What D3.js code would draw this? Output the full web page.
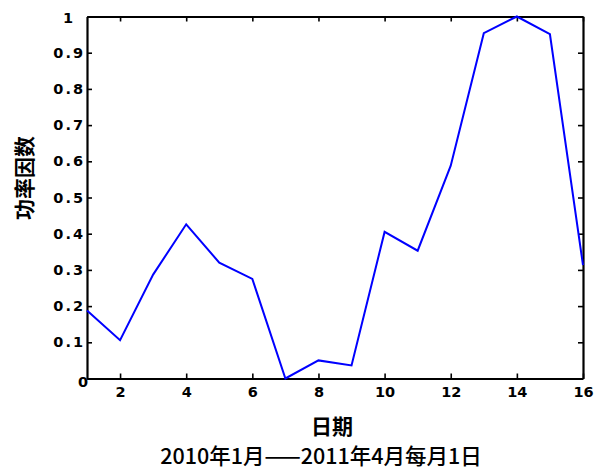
<!DOCTYPE html>
<html>
<head>
<meta charset="utf-8">
<script src="https://cdn.jsdelivr.net/npm/d3@7"></script>
<style>
  html, body { margin: 0; padding: 0; background: #fff; }
  svg { display: block; }
</style>
</head>
<body>
<svg id="chart" width="595" height="469"></svg>
<script>
// Monthly power factor, sampled on the 1st of each month (Jan 2010 – Apr 2011)
const months = [1, 2, 3, 4, 5, 6, 7, 8, 9, 10, 11, 12, 13, 14, 15, 16];
const powerFactor = [0.188, 0.106, 0.287, 0.426, 0.320, 0.275, 0.000, 0.050,
                     0.036, 0.405, 0.353, 0.588, 0.954, 1.000, 0.951, 0.313];
const xTicks = [2, 4, 6, 8, 10, 12, 14, 16];
const yTicks = [0, 0.1, 0.2, 0.3, 0.4, 0.5, 0.6, 0.7, 0.8, 0.9, 1];
const yLabel = "功率因数";
const xLabel = "日期";
const subtitle = "2010年1月——2011年4月每月1日";

const svg = d3.select("#chart");
const plotLeft = 87, plotRight = 583, plotTop = 16.5, plotBottom = 378.5;

const x = d3.scaleLinear().domain([1, 16]).range([plotLeft, plotRight]);
const y = d3.scaleLinear().domain([0, 1]).range([plotBottom, plotTop]);

const tickFont = "'DejaVu Sans', sans-serif";
const yFmt = d => d === 0 ? "0" : d === 1 ? "1" : d3.format(".1f")(d);

// Bottom axis with labels
const gx = svg.append("g").attr("transform", `translate(0,${plotBottom})`)
  .call(d3.axisBottom(x).tickValues(xTicks).tickSizeInner(-5).tickSizeOuter(0).tickPadding(8).tickFormat(d3.format("d")));
// Top axis, ticks only
const gxt = svg.append("g").attr("transform", `translate(0,${plotTop})`)
  .call(d3.axisTop(x).tickValues(xTicks).tickSizeInner(-5).tickSizeOuter(0).tickFormat(""));
// Left axis with labels
const gy = svg.append("g").attr("transform", `translate(${plotLeft},0)`)
  .call(d3.axisLeft(y).tickValues(yTicks).tickSizeInner(-5).tickSizeOuter(0).tickPadding(2).tickFormat(yFmt));
// Right axis, ticks only
const gyr = svg.append("g").attr("transform", `translate(${plotRight},0)`)
  .call(d3.axisRight(y).tickValues(yTicks).tickSizeInner(-5).tickSizeOuter(0).tickFormat(""));

[gx, gxt, gy, gyr].forEach(g => {
  g.select(".domain").attr("stroke", "#000").attr("stroke-width", 2.2);
  g.selectAll(".tick line").attr("stroke", "#000").attr("stroke-width", 1.6);
});

gx.selectAll("text")
  .attr("font-family", tickFont).attr("font-size", 14.5).attr("font-weight", "bold").attr("fill", "#000");
gy.selectAll("text")
  .attr("font-family", tickFont).attr("font-size", 14.5).attr("font-weight", "bold").attr("fill", "#000")
  .attr("letter-spacing", 2);
// End labels sit slightly off the regular column
gy.selectAll(".tick").filter(d => d === 0).select("text").attr("x", 3).attr("dy", "0.55em");
gy.selectAll(".tick").filter(d => d === 1).select("text").attr("x", -12).attr("dy", "0.4em");

// Data line
const line = d3.line().x((d, i) => x(months[i])).y(d => y(d));
svg.append("path")
  .datum(powerFactor)
  .attr("fill", "none")
  .attr("stroke", "#0000ff")
  .attr("stroke-width", 2)
  .attr("stroke-linejoin", "miter")
  .attr("d", line);

// Axis titles
const cjk = "'Noto Sans CJK SC', sans-serif";
svg.append("text")
  .attr("transform", "translate(32,178) rotate(-90)")
  .attr("text-anchor", "middle")
  .attr("font-family", cjk).attr("font-size", 21).attr("font-weight", 600)
  .text(yLabel);

svg.append("text")
  .attr("x", 332).attr("y", 434)
  .attr("text-anchor", "middle")
  .attr("font-family", cjk).attr("font-size", 21).attr("font-weight", 600)
  .text(xLabel);

svg.append("text")
  .attr("x", 321).attr("y", 464)
  .attr("text-anchor", "middle")
  .attr("font-family", cjk).attr("font-size", 21.5).attr("font-weight", 500)
  .text(subtitle);
</script>
</body>
</html>
